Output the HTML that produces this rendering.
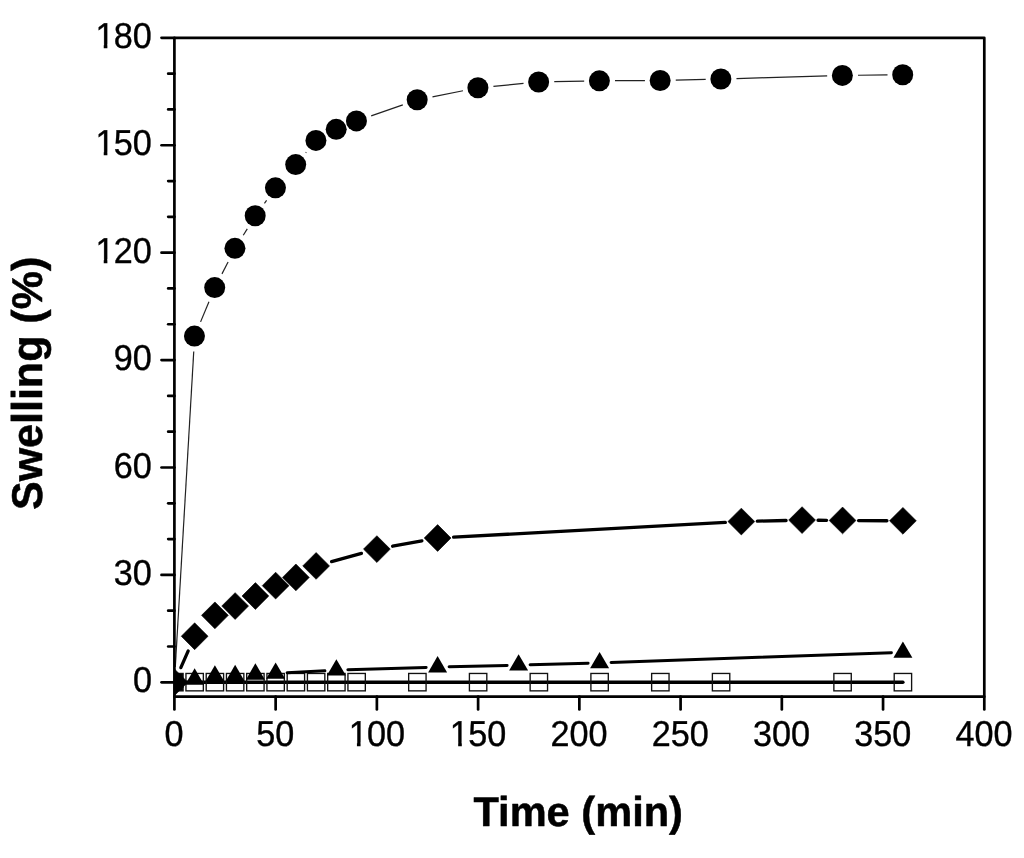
<!DOCTYPE html>
<html lang="en"><head><meta charset="utf-8"><title>Swelling vs Time</title>
<style>html,body{margin:0;padding:0;background:#fff}body{width:1024px;height:858px;overflow:hidden}</style></head>
<body>
<svg width="1024" height="858" viewBox="0 0 1024 858" style="display:block;filter:blur(0.45px)">
<rect width="1024" height="858" fill="#fff"/>
<defs><clipPath id="c"><rect x="174.4" y="37.85" width="809.9" height="658.85"/></clipPath></defs>
<g clip-path="url(#c)">
<line x1="174.4" y1="682.3" x2="902.91" y2="682.3" stroke="#000" stroke-width="3.4" stroke-linecap="round"/>
<g fill="none" stroke="#111" stroke-width="1.35"><rect x="165.7" y="673.46" width="17.4" height="17.4" fill="#000"/><rect x="185.95" y="673.46" width="17.4" height="17.4"/><rect x="206.2" y="673.46" width="17.4" height="17.4"/><rect x="226.44" y="673.46" width="17.4" height="17.4"/><rect x="246.69" y="673.46" width="17.4" height="17.4"/><rect x="266.94" y="673.46" width="17.4" height="17.4"/><rect x="287.19" y="673.46" width="17.4" height="17.4"/><rect x="307.43" y="673.46" width="17.4" height="17.4"/><rect x="327.68" y="673.46" width="17.4" height="17.4"/><rect x="347.93" y="673.46" width="17.4" height="17.4"/><rect x="408.67" y="673.46" width="17.4" height="17.4"/><rect x="469.41" y="673.46" width="17.4" height="17.4"/><rect x="530.15" y="673.46" width="17.4" height="17.4"/><rect x="590.9" y="673.46" width="17.4" height="17.4"/><rect x="651.64" y="673.46" width="17.4" height="17.4"/><rect x="712.38" y="673.46" width="17.4" height="17.4"/><rect x="833.87" y="673.46" width="17.4" height="17.4"/><rect x="894.21" y="673.46" width="17.4" height="17.4"/></g>
<g stroke="#000" stroke-width="3.0" stroke-linecap="round" fill="none"><line x1="287.12" y1="672.74" x2="324.9" y2="670.74"/><line x1="347.87" y1="669.78" x2="426.12" y2="667.4"/><line x1="449.11" y1="666.77" x2="507.11" y2="665.39"/><line x1="530.1" y1="664.79" x2="588.1" y2="663.15"/><line x1="611.09" y1="662.43" x2="891.41" y2="652.8"/></g>
<g fill="#000"><path d="M174.4 671.37L183.9 687.77L164.9 687.77Z"/><path d="M194.65 668.36L204.15 684.76L185.15 684.76Z"/><path d="M214.9 665.17L224.4 681.57L205.4 681.57Z"/><path d="M235.14 664.78L244.64 681.18L225.64 681.18Z"/><path d="M255.39 663.28L264.89 679.68L245.89 679.68Z"/><path d="M275.64 662.42L285.14 678.82L266.14 678.82Z"/><path d="M336.38 659.19L345.88 675.59L326.88 675.59Z"/><path d="M437.62 656.11L447.12 672.51L428.12 672.51Z"/><path d="M518.61 654.18L528.11 670.58L509.11 670.58Z"/><path d="M599.6 651.89L609.1 668.29L590.1 668.29Z"/><path d="M902.91 641.47L912.41 657.87L893.41 657.87Z"/></g>
<g stroke="#000" stroke-width="3.3" stroke-linecap="round" fill="none"><line x1="180.84" y1="667.65" x2="188.21" y2="650.9"/><line x1="331.55" y1="561.67" x2="361.46" y2="553.39"/><line x1="392.61" y1="546.24" x2="421.88" y2="540.89"/><line x1="453.59" y1="537.15" x2="725.35" y2="522.41"/><line x1="757.33" y1="521.17" x2="786.08" y2="520.49"/><line x1="818.07" y1="520.25" x2="826.57" y2="520.33"/><line x1="858.57" y1="520.57" x2="886.91" y2="520.73"/></g>
<g fill="#000" stroke="#000" stroke-width="0.6" stroke-linejoin="round"><path d="M174.4 668.9L187.8 682.3L174.4 695.7L161 682.3Z"/><path d="M194.65 622.86L208.05 636.26L194.65 649.66L181.25 636.26Z"/><path d="M214.9 601.95L228.3 615.35L214.9 628.75L201.5 615.35Z"/><path d="M235.14 592.64L248.54 606.04L235.14 619.44L221.74 606.04Z"/><path d="M255.39 582.62L268.79 596.02L255.39 609.42L241.99 596.02Z"/><path d="M275.64 572.23L289.04 585.63L275.64 599.03L262.24 585.63Z"/><path d="M295.88 564L309.28 577.4L295.88 590.8L282.49 577.4Z"/><path d="M316.13 552.54L329.53 565.94L316.13 579.34L302.73 565.94Z"/><path d="M376.88 535.71L390.27 549.11L376.88 562.51L363.48 549.11Z"/><path d="M437.62 524.61L451.02 538.01L437.62 551.41L424.22 538.01Z"/><path d="M741.33 508.15L754.73 521.55L741.33 534.95L727.93 521.55Z"/><path d="M802.07 506.71L815.47 520.11L802.07 533.51L788.67 520.11Z"/><path d="M842.57 507.07L855.97 520.47L842.57 533.87L829.17 520.47Z"/><path d="M902.91 507.43L916.31 520.83L902.91 534.23L889.51 520.83Z"/></g>
<g stroke="#222" stroke-width="1.2" stroke-linecap="butt" fill="none"><line x1="175.3" y1="666.93" x2="193.75" y2="351.46"/><line x1="200.58" y1="321.88" x2="208.96" y2="301.79"/><line x1="221.96" y1="273.89" x2="228.08" y2="262.05"/><line x1="243.27" y1="235.29" x2="247.26" y2="228.87"/><line x1="264.43" y1="203.32" x2="266.6" y2="200.33"/><line x1="305.78" y1="152.79" x2="306.24" y2="152.23"/><line x1="371.17" y1="115.85" x2="402.82" y2="104.85"/><line x1="432.47" y1="96.79" x2="463.01" y2="90.72"/><line x1="493.44" y1="86.28" x2="523.52" y2="83.44"/><line x1="554.25" y1="81.7" x2="584.2" y2="81.11"/><line x1="615" y1="80.72" x2="644.94" y2="80.55"/><line x1="675.74" y1="80.09" x2="705.69" y2="79.39"/><line x1="736.48" y1="78.57" x2="827.17" y2="75.9"/><line x1="857.97" y1="75.26" x2="887.51" y2="74.91"/></g>
<g fill="#000"><circle cx="194.45" cy="336.09" r="10.5"/><circle cx="214.7" cy="287.57" r="10.5"/><circle cx="234.94" cy="248.37" r="10.5"/><circle cx="255.19" cy="215.79" r="10.5"/><circle cx="275.44" cy="187.86" r="10.5"/><circle cx="295.69" cy="164.59" r="10.5"/><circle cx="315.93" cy="140.42" r="10.5"/><circle cx="336.18" cy="129.33" r="10.5"/><circle cx="356.43" cy="120.91" r="10.5"/><circle cx="417.17" cy="99.79" r="10.5"/><circle cx="477.91" cy="87.72" r="10.5"/><circle cx="538.65" cy="81.99" r="10.5"/><circle cx="599.4" cy="80.81" r="10.5"/><circle cx="660.14" cy="80.46" r="10.5"/><circle cx="720.88" cy="79.02" r="10.5"/><circle cx="842.37" cy="75.44" r="10.5"/><circle cx="902.71" cy="74.73" r="10.5"/></g>
</g>
<g stroke="#000" stroke-width="2.7" fill="none" stroke-linecap="round">
<rect x="174.4" y="37.85" width="809.9" height="658.85" stroke-linejoin="round"/>
<line x1="161.5" y1="682.3" x2="174.4" y2="682.3"/>
<line x1="168.2" y1="646.5" x2="174.4" y2="646.5"/>
<line x1="168.2" y1="610.69" x2="174.4" y2="610.69"/>
<line x1="161.5" y1="574.89" x2="174.4" y2="574.89"/>
<line x1="168.2" y1="539.09" x2="174.4" y2="539.09"/>
<line x1="168.2" y1="503.29" x2="174.4" y2="503.29"/>
<line x1="161.5" y1="467.48" x2="174.4" y2="467.48"/>
<line x1="168.2" y1="431.68" x2="174.4" y2="431.68"/>
<line x1="168.2" y1="395.88" x2="174.4" y2="395.88"/>
<line x1="161.5" y1="360.07" x2="174.4" y2="360.07"/>
<line x1="168.2" y1="324.27" x2="174.4" y2="324.27"/>
<line x1="168.2" y1="288.47" x2="174.4" y2="288.47"/>
<line x1="161.5" y1="252.67" x2="174.4" y2="252.67"/>
<line x1="168.2" y1="216.86" x2="174.4" y2="216.86"/>
<line x1="168.2" y1="181.06" x2="174.4" y2="181.06"/>
<line x1="161.5" y1="145.26" x2="174.4" y2="145.26"/>
<line x1="168.2" y1="109.46" x2="174.4" y2="109.46"/>
<line x1="168.2" y1="73.65" x2="174.4" y2="73.65"/>
<line x1="161.5" y1="37.85" x2="174.4" y2="37.85"/>
<line x1="174.4" y1="696.7" x2="174.4" y2="709.4"/>
<line x1="275.64" y1="696.7" x2="275.64" y2="709.4"/>
<line x1="376.88" y1="696.7" x2="376.88" y2="709.4"/>
<line x1="478.11" y1="696.7" x2="478.11" y2="709.4"/>
<line x1="579.35" y1="696.7" x2="579.35" y2="709.4"/>
<line x1="680.59" y1="696.7" x2="680.59" y2="709.4"/>
<line x1="781.83" y1="696.7" x2="781.83" y2="709.4"/>
<line x1="883.06" y1="696.7" x2="883.06" y2="709.4"/>
<line x1="984.3" y1="696.7" x2="984.3" y2="709.4"/>
</g>
<g font-family="'Liberation Sans', Arial, sans-serif" font-size="34.2" fill="#000" stroke="#000" stroke-width="0.35" text-rendering="geometricPrecision">
<text transform="translate(132.88,692.35) scale(1,1.052)">0</text>
<text transform="translate(113.86,584.94) scale(1,1.052)">30</text>
<text transform="translate(113.86,477.53) scale(1,1.052)">60</text>
<text transform="translate(113.86,370.12) scale(1,1.052)">90</text>
<text transform="translate(94.84,262.72) scale(1,1.052)"><tspan dx="0.6">1</tspan><tspan dx="-0.6">20</tspan></text>
<text transform="translate(94.84,155.31) scale(1,1.052)"><tspan dx="0.6">1</tspan><tspan dx="-0.6">50</tspan></text>
<text transform="translate(94.84,47.9) scale(1,1.052)"><tspan dx="0.6">1</tspan><tspan dx="-0.6">80</tspan></text>
<text transform="translate(164.59,746.05) scale(1,1.052)">0</text>
<text transform="translate(256.32,746.05) scale(1,1.052)">50</text>
<text transform="translate(348.04,746.05) scale(1,1.052)"><tspan dx="0.6">1</tspan><tspan dx="-0.6">00</tspan></text>
<text transform="translate(449.28,746.05) scale(1,1.052)"><tspan dx="0.6">1</tspan><tspan dx="-0.6">50</tspan></text>
<text transform="translate(550.52,746.05) scale(1,1.052)">200</text>
<text transform="translate(651.76,746.05) scale(1,1.052)">250</text>
<text transform="translate(752.99,746.05) scale(1,1.052)">300</text>
<text transform="translate(854.23,746.05) scale(1,1.052)">350</text>
<text transform="translate(955.47,746.05) scale(1,1.052)">400</text>
</g>
<g fill="#fff"><rect x="96.47" y="259.32" width="7.26" height="5.3"/><rect x="107.37" y="259.32" width="6.5" height="5.3"/><rect x="96.47" y="151.91" width="7.26" height="5.3"/><rect x="107.37" y="151.91" width="6.5" height="5.3"/><rect x="96.47" y="44.5" width="7.26" height="5.3"/><rect x="107.37" y="44.5" width="6.5" height="5.3"/><rect x="349.67" y="742.65" width="7.26" height="5.3"/><rect x="360.57" y="742.65" width="6.5" height="5.3"/><rect x="450.91" y="742.65" width="7.26" height="5.3"/><rect x="461.81" y="742.65" width="6.5" height="5.3"/></g>
<g font-family="'Liberation Sans', Arial, sans-serif" font-weight="bold" fill="#000" stroke="#000" stroke-width="0.5" stroke-linejoin="round" text-rendering="geometricPrecision">
<text x="578.2" y="825.6" font-size="41.6" text-anchor="middle">Time (min)</text>
<text transform="translate(41.9,383.4) rotate(-90)" font-size="43" text-anchor="middle">Swelling (%)</text>
</g>
</svg>
</body></html>
